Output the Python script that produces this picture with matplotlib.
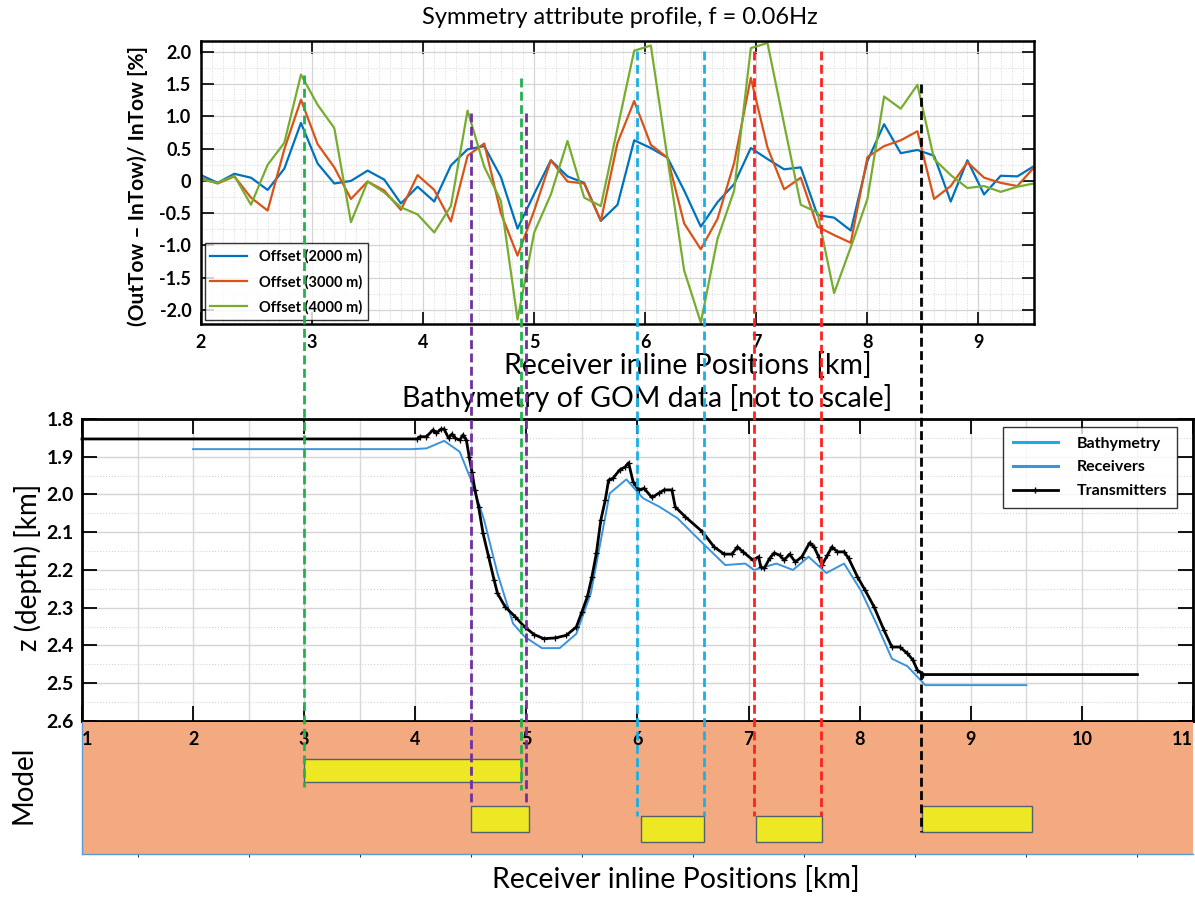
import numpy as np
import matplotlib
matplotlib.use("Agg")
import matplotlib.pyplot as plt
from matplotlib.lines import Line2D
from matplotlib.patches import Rectangle
from matplotlib.ticker import MultipleLocator, FuncFormatter

plt.rcParams['font.family'] = ['Lato', 'DejaVu Sans']
plt.rcParams['axes.unicode_minus'] = False

# --- symmetry attribute, receivers every 150 m from 2.0 to 9.5 km ---
rx_km = np.round(np.arange(2.0, 9.5001, 0.15), 2)
sym_2000 = [0.09, -0.03, 0.11, 0.05, -0.14, 0.19, 0.90, 0.27, -0.04, 0.0,
            0.16, 0.02, -0.35, -0.09, -0.32, 0.24, 0.49, 0.54, 0.06, -0.74,
            -0.2, 0.32, 0.07, -0.03, -0.62, -0.37, 0.63, 0.51, 0.36, -0.15,
            -0.71, -0.33, -0.05, 0.51, 0.34, 0.18, 0.21, -0.53, -0.57, -0.77,
            0.31, 0.88, 0.43, 0.48, 0.39, -0.32, 0.32, -0.21, 0.08, 0.07, 0.23]
sym_3000 = [0.04, -0.04, 0.07, -0.26, -0.46, 0.49, 1.26, 0.57, 0.21, -0.28,
            -0.01, -0.15, -0.45, 0.09, -0.14, -0.63, 0.39, 0.58, -0.5, -1.16,
            -0.46, 0.32, -0.01, -0.04, -0.62, 0.59, 1.24, 0.56, 0.36, -0.66,
            -1.06, -0.59, 0.28, 1.60, 0.52, -0.13, 0.05, -0.71, -0.84, -0.96,
            0.37, 0.54, 0.63, 0.77, -0.28, -0.08, 0.29, 0.05, -0.03, -0.08, 0.21]
sym_4000 = [0.02, -0.03, 0.08, -0.37, 0.25, 0.59, 1.65, 1.18, 0.82, -0.64,
            -0.01, -0.18, -0.41, -0.52, -0.80, -0.39, 1.09, 0.22, -0.31, -2.15,
            -0.80, -0.21, 0.62, -0.26, -0.39, 0.82, 2.02, 2.10, 0.35, -1.39,
            -2.2, -0.90, -0.15, 2.06, 2.14, 0.88, -0.37, -0.49, -1.74, -1.03,
            -0.28, 1.31, 1.12, 1.49, 0.34, 0.09, -0.11, -0.08, -0.17, -0.09, -0.04]
offset_labels = ['Offset (2000 m)', 'Offset (3000 m)', 'Offset (4000 m)']
offset_colors = ['#0072BD', '#D95319', '#77AC30']

# --- bathymetry profile (depth in km) ---
rec_x = [2.0, 3.97, 4.1, 4.26, 4.40, 4.5, 4.62, 4.74, 4.88, 4.985, 5.14, 5.30,
         5.45, 5.58, 5.75, 5.90, 6.05, 6.20, 6.36, 6.59, 6.79, 6.97, 7.05, 7.25,
         7.40, 7.54, 7.70, 7.86, 8.01, 8.15, 8.29, 8.43, 8.59, 9.5]
rec_z = [1.88, 1.88, 1.878, 1.858, 1.887, 1.96, 2.068, 2.209, 2.342, 2.377,
         2.407, 2.407, 2.369, 2.262, 1.997, 1.96, 2.01, 2.033, 2.063, 2.13,
         2.187, 2.183, 2.2, 2.183, 2.2, 2.165, 2.208, 2.183, 2.254, 2.342,
         2.435, 2.455, 2.505, 2.505]
tx_x = [1.0, 4.02, 4.04, 4.10, 4.16, 4.19, 4.23, 4.26, 4.30, 4.33, 4.36, 4.40,
        4.43, 4.46, 4.485, 4.51, 4.537, 4.57, 4.61, 4.66, 4.71, 4.74, 4.81,
        4.90, 4.985, 5.07, 5.157, 5.26, 5.36, 5.45, 5.50, 5.55, 5.59, 5.63,
        5.67, 5.71, 5.74, 5.78, 5.84, 5.89, 5.92, 5.96, 6.01, 6.06, 6.13, 6.19,
        6.24, 6.31, 6.34, 6.43, 6.585, 6.69, 6.78, 6.85, 6.90, 6.95, 7.04, 7.09,
        7.11, 7.14, 7.19, 7.23, 7.28, 7.32, 7.37, 7.42, 7.48, 7.55, 7.59, 7.63,
        7.66, 7.71, 7.75, 7.80, 7.86, 7.90, 7.98, 8.05, 8.13, 8.22, 8.29, 8.36,
        8.43, 8.48, 8.52, 8.57, 10.5]
tx_z = [1.853, 1.853, 1.847, 1.847, 1.829, 1.838, 1.827, 1.827, 1.851, 1.84,
        1.851, 1.856, 1.842, 1.856, 1.90, 1.94, 1.988, 2.033, 2.103, 2.165,
        2.227, 2.262, 2.298, 2.324, 2.351, 2.371, 2.382, 2.38, 2.373, 2.351,
        2.311, 2.27, 2.218, 2.156, 2.068, 2.015, 1.962, 1.957, 1.935, 1.927,
        1.916, 1.966, 1.988, 1.984, 2.008, 1.997, 1.988, 1.988, 2.033, 2.059,
        2.099, 2.139, 2.158, 2.158, 2.139, 2.152, 2.174, 2.165, 2.192, 2.196,
        2.169, 2.155, 2.161, 2.174, 2.158, 2.179, 2.165, 2.128, 2.139, 2.165,
        2.187, 2.161, 2.139, 2.152, 2.152, 2.169, 2.218, 2.254, 2.298, 2.36,
        2.404, 2.404, 2.421, 2.439, 2.466, 2.477, 2.477]

# --- resistive bodies in the (not to scale) model sketch ---
body_x0 = [3.0, 4.5, 6.03, 7.07, 8.56]
body_x1 = [4.95, 5.02, 6.6, 7.66, 9.55]
body_top = [0.28, 0.636, 0.712, 0.712, 0.636]
body_bot = [0.455, 0.833, 0.909, 0.909, 0.833]

# --- guide lines linking anomalies to bodies ---
guide_x = [3.0, 4.5, 4.95, 5.0, 6.0, 6.6, 7.05, 7.65, 8.55]
guide_color = ['#22B14C', '#7030A0', '#22B14C', '#7030A0', '#1CAFE5',
               '#1CAFE5', '#FF2020', '#FF2020', 'black']
guide_top = [1.65, 1.05, 1.6, 1.05, 2.02, 2.02, 2.02, 2.02, 1.5]     # symmetry units
guide_bot = [0.49, 0.636, 0.515, 0.636, 0.712, 0.712, 0.712, 0.712, 0.833]  # model units

fig = plt.figure(figsize=(11.95, 9.0), dpi=100)

# ---------------- symmetry attribute panel ----------------
ax_t = fig.add_axes([0.1682, 0.64, 0.6971, 0.3144])
for vals, lab, col in zip([sym_2000, sym_3000, sym_4000], offset_labels, offset_colors):
    ax_t.plot(rx_km, vals, color=col, lw=1.6, label=lab)
ax_t.set_xlim(2, 9.5)
ax_t.set_ylim(-2.22, 2.17)
ax_t.xaxis.set_major_locator(MultipleLocator(1))
ax_t.xaxis.set_minor_locator(MultipleLocator(0.1))
ax_t.yaxis.set_major_locator(MultipleLocator(0.5))
ax_t.yaxis.set_minor_locator(MultipleLocator(0.25))
ax_t.yaxis.set_major_formatter(FuncFormatter(lambda v, p: '0' if abs(v) < 1e-9 else f'{v:.1f}'))
ax_t.grid(which='major', color='#d4d4d4', lw=0.9)
ax_t.grid(which='minor', color='#d8d8d8', lw=0.7, ls=':')
ax_t.tick_params(which='major', direction='in', length=9, width=1.2, top=True, right=True,
                 labelsize=13, pad=7)
ax_t.tick_params(which='minor', length=0)
for t in ax_t.get_xticklabels() + ax_t.get_yticklabels():
    t.set_fontweight('bold')
for s in ax_t.spines.values():
    s.set_linewidth(1.8)
ax_t.legend(loc='lower left', frameon=True, fancybox=False, edgecolor='black',
            prop={'weight': 'bold', 'size': 10.5}, handlelength=2.5,
            borderaxespad=0.25, labelspacing=0.75).get_frame().set_linewidth(1.0)

fig.text(620 / 1195, 1 - 18 / 900, 'Symmetry attribute profile, f = 0.06Hz',
         ha='center', va='center', fontsize=17)
fig.text(688 / 1195, 1 - 365 / 900, 'Receiver inline Positions [km]',
         ha='center', va='center', fontsize=20.5)
fig.text(138 / 1195, 1 - 186 / 900, '(OutTow \u2013 InTow)/ InTow [%]', rotation=90,
         ha='center', va='center', fontsize=15, fontweight='bold')

# ---------------- bathymetry panel ----------------
ax_b = fig.add_axes([0.0686, 0.1989, 0.9297, 0.3356])
ax_b.plot(rec_x, rec_z, color='#3A93DB', lw=1.4, zorder=3)
ax_b.plot(tx_x, tx_z, color='black', lw=2.0, marker='+', ms=4, mew=0.9,
          markevery=slice(1, -1), zorder=4, clip_on=False)
ax_b.set_xlim(1, 11)
ax_b.set_ylim(2.6, 1.8)
ax_b.xaxis.set_major_locator(MultipleLocator(1))
ax_b.xaxis.set_minor_locator(MultipleLocator(0.5))
ax_b.yaxis.set_major_locator(MultipleLocator(0.1))
ax_b.yaxis.set_minor_locator(MultipleLocator(0.05))
ax_b.grid(which='major', axis='y', color='#d4d4d4', lw=1.0)
ax_b.grid(which='minor', axis='y', color='#d4d4d4', lw=0.8, ls=':')
ax_b.grid(which='both', axis='x', color='#d8d8d8', lw=1.0)
ax_b.tick_params(which='major', direction='in', length=11, width=1.3, top=True, right=True,
                 labelbottom=False, labelsize=14, pad=6)
ax_b.tick_params(which='minor', length=0)
for t in ax_b.get_yticklabels():
    t.set_fontweight('bold')
for s in ax_b.spines.values():
    s.set_linewidth(2.0)
leg_handles = [Line2D([], [], color='#1AACE8', lw=2.2),
               Line2D([], [], color='#3A93DB', lw=2.2),
               Line2D([], [], color='black', lw=2.0, marker='+', ms=4)]
leg = ax_b.legend(leg_handles, ['Bathymetry', 'Receivers', 'Transmitters'],
                  loc='upper right', bbox_to_anchor=(0.9856, 0.9735), frameon=True,
                  fancybox=False, edgecolor='black', borderaxespad=0,
                  prop={'weight': 'bold', 'size': 11.5}, handlelength=2.8,
                  handletextpad=1.2, labelspacing=0.6, borderpad=0.6)
leg.get_frame().set_linewidth(1.0)

fig.text(647 / 1195, 1 - 398 / 900, 'Bathymetry of GOM data [not to scale]',
         ha='center', va='center', fontsize=20.5)
fig.text(28 / 1195, 1 - 567 / 900, 'z (depth) [km]', rotation=90,
         ha='center', va='center', fontsize=20)

# ---------------- model sketch ----------------
ax_m = fig.add_axes([0.0686, 0.0511, 0.9297, 0.1467], sharex=ax_b)
ax_m.set_facecolor('#F4AA80')
ax_m.set_ylim(1, 0)
ax_m.set_yticks([])
ax_m.tick_params(axis='x', length=0, labelbottom=False)
for side in ['top', 'right']:
    ax_m.spines[side].set_visible(False)
for side in ['left', 'bottom']:
    ax_m.spines[side].set_color('#5B9BD5')
    ax_m.spines[side].set_linewidth(1.0)
for k in range(1, 12):
    ha = 'left' if k == 1 else ('right' if k == 11 else 'center')
    ax_m.text(k, 0.13, str(k), ha=ha, va='center', fontsize=13, fontweight='bold')
for x0, x1, yt, yb in zip(body_x0, body_x1, body_top, body_bot):
    ax_m.add_patch(Rectangle((x0, yt), x1 - x0, yb - yt, facecolor='#EEE824',
                             edgecolor='#55606E', lw=1.0, zorder=3))

fig.text(23 / 1195, 1 - 785 / 900, 'Model', rotation=90, ha='center', va='center',
         fontsize=20)
fig.text(676 / 1195, 1 - 880 / 900, 'Receiver inline Positions [km]',
         ha='center', va='center', fontsize=20.5)

# vertical dashed guides running across all three panels
to_fig = fig.transFigure.inverted()
for x, col, v0, m1 in zip(guide_x, guide_color, guide_top, guide_bot):
    xd = ax_b.transData.transform((x, 2.0))[0]
    yd0 = ax_t.transData.transform((2.0, v0))[1]
    yd1 = ax_m.transData.transform((x, m1))[1]
    fx, fy0 = to_fig.transform((xd, yd0))
    _, fy1 = to_fig.transform((xd, yd1))
    fig.add_artist(Line2D([fx, fx], [fy0, fy1], transform=fig.transFigure,
                          color=col, lw=2.0, ls=(0, (3.2, 1.6)), zorder=10))

fig.savefig('out.png', dpi=100)
